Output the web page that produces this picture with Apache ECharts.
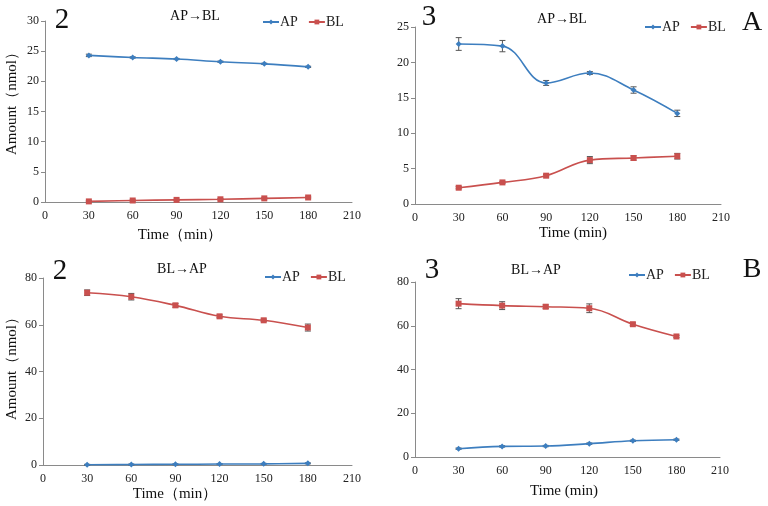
<!DOCTYPE html>
<html><head><meta charset="utf-8">
<script src="https://cdn.jsdelivr.net/npm/echarts@6/dist/echarts.min.js"></script>
<style>html,body{margin:0;padding:0;background:#fff}#c{width:768px;height:506px}</style>
</head><body><div id="c"></div>
<script>
var times = [30, 60, 90, 120, 150, 180];
var xTicks = [0, 30, 60, 90, 120, 150, 180, 210];
// Panel 1: "2", AP→BL
var p1AP = [24.3, 23.95, 23.7, 23.25, 22.9, 22.4];
var p1APErr = [0.2, 0.1, 0.1, 0.1, 0.1, 0.1];
var p1BL = [0.1, 0.25, 0.35, 0.45, 0.6, 0.75];
var p1BLErr = [0.1, 0.1, 0.1, 0.1, 0.1, 0.1];
// Panel 2: "3", AP→BL
var p2AP = [22.6, 22.3, 17.1, 18.5, 16.1, 12.8];
var p2APErr = [0.9, 0.8, 0.35, 0.2, 0.45, 0.45];
var p2BL = [2.3, 3.05, 4.0, 6.2, 6.5, 6.75];
var p2BLErr = [0.15, 0.15, 0.15, 0.5, 0.3, 0.4];
// Panel 3: "2", BL→AP
var p3AP = [0.1, 0.2, 0.3, 0.4, 0.5, 0.7];
var p3APErr = [0.2, 0.2, 0.2, 0.2, 0.2, 0.2];
var p3BL = [73.7, 72.0, 68.3, 63.6, 61.9, 58.8];
var p3BLErr = [1.2, 1.4, 0.8, 0.6, 0.5, 1.5];
// Panel 4: "3", BL→AP
var p4AP = [3.8, 4.85, 5.0, 6.1, 7.4, 7.9];
var p4APErr = [0.3, 0.3, 0.3, 0.3, 0.3, 0.3];
var p4BL = [70.1, 69.2, 68.7, 68.0, 60.7, 55.1];
var p4BLErr = [2.3, 1.8, 0.8, 2.0, 0.6, 0.5];

var yMax = [30, 25, 80, 80];
var yInt = [5, 5, 20, 20];

var BLUE = '#3d7ebf', RED = '#c9504e', AXIS = '#8a8a8a';
var FONT = 'Liberation Serif';

var grids = [
  {left: 45, top: 21, width: 307, height: 181},
  {left: 415, top: 27, width: 306, height: 177},
  {left: 43, top: 278, width: 309, height: 187},
  {left: 415, top: 282, width: 305, height: 175}
];

var panels = [
  {ap: p1AP, apE: p1APErr, bl: p1BL, blE: p1BLErr},
  {ap: p2AP, apE: p2APErr, bl: p2BL, blE: p2BLErr},
  {ap: p3AP, apE: p3APErr, bl: p3BL, blE: p3BLErr},
  {ap: p4AP, apE: p4APErr, bl: p4BL, blE: p4BLErr}
];

var xAxes = [], yAxes = [], series = [];
grids.forEach(function (g, i) {
  xAxes.push({
    type: 'value', gridIndex: i, min: 0, max: 210, interval: 30,
    axisLine: {lineStyle: {color: AXIS}}, axisTick: {show: false},
    splitLine: {show: false},
    axisLabel: {color: '#222', fontFamily: FONT, fontSize: 12, margin: 8}
  });
  yAxes.push({
    type: 'value', gridIndex: i, min: 0, max: yMax[i], interval: yInt[i],
    axisLine: {show: true, lineStyle: {color: AXIS}},
    axisTick: {show: true, length: 4, lineStyle: {color: AXIS}},
    splitLine: {show: false},
    axisLabel: {color: '#222', fontFamily: FONT, fontSize: 12, margin: 6}
  });
});

function errSeries(i, vals, errs, color) {
  return {
    type: 'custom', xAxisIndex: i, yAxisIndex: i, silent: true, z: 3,
    data: times.map(function (t, k) { return [t, vals[k] - errs[k], vals[k] + errs[k]]; }),
    renderItem: function (params, api) {
      var lo = api.coord([api.value(0), api.value(1)]);
      var hi = api.coord([api.value(0), api.value(2)]);
      var w = 3;
      var st = {stroke: color, lineWidth: 1};
      return {type: 'group', children: [
        {type: 'line', shape: {x1: hi[0], y1: hi[1], x2: lo[0], y2: lo[1]}, style: st},
        {type: 'line', shape: {x1: hi[0] - w, y1: hi[1], x2: hi[0] + w, y2: hi[1]}, style: st},
        {type: 'line', shape: {x1: lo[0] - w, y1: lo[1], x2: lo[0] + w, y2: lo[1]}, style: st}
      ]};
    }
  };
}

panels.forEach(function (p, i) {
  series.push({
    name: 'AP', type: 'line', xAxisIndex: i, yAxisIndex: i, smooth: 0.4,
    data: times.map(function (t, k) { return [t, p.ap[k]]; }),
    symbol: 'diamond', symbolSize: 6, showSymbol: true,
    lineStyle: {color: BLUE, width: 1.6}, itemStyle: {color: BLUE}, z: 4
  });
  series.push({
    name: 'BL', type: 'line', xAxisIndex: i, yAxisIndex: i, smooth: 0.4,
    data: times.map(function (t, k) { return [t, p.bl[k]]; }),
    symbol: 'rect', symbolSize: 6, showSymbol: true,
    lineStyle: {color: RED, width: 1.6}, itemStyle: {color: RED}, z: 4
  });
  series.push(errSeries(i, p.ap, p.apE, '#555'));
  series.push(errSeries(i, p.bl, p.blE, '#555'));
});

var legendPos = [[262, 15], [644, 20], [264, 270], [628, 268]];
var legends = legendPos.map(function (pp) {
  return {
    data: ['AP', 'BL'], left: pp[0], top: pp[1], orient: 'horizontal',
    itemWidth: 16, itemHeight: 6, itemGap: 10, selectedMode: false,
    textStyle: {fontFamily: FONT, fontSize: 14, color: '#222', padding: [0, 0, 0, -4]},
    padding: 0
  };
});

function t(x, y, s, size, rot) {
  var o = {type: 'text', x: x, y: y, style: {text: s, font: size + 'px "' + FONT + '"', fill: '#111', align: 'center', verticalAlign: 'middle'}};
  if (rot) o.rotation = rot;
  return o;
}
var graphics = [
  t(62, 20, '2', 29), t(195, 16, 'AP→BL', 14),
  t(429, 17, '3', 29), t(562, 19, 'AP→BL', 14), t(752, 23, 'A', 28),
  t(60, 271, '2', 29), t(182, 269, 'BL→AP', 14),
  t(432, 270, '3', 29), t(536, 270, 'BL→AP', 14), t(752, 270, 'B', 28),
  t(180, 235, 'Time（min）', 15), t(573, 233, 'Time (min)', 15),
  t(175, 494, 'Time（min）', 15), t(564, 491, 'Time (min)', 15),
  t(12, 100, 'Amount（nmol）', 15, Math.PI / 2),
  t(12, 365, 'Amount（nmol）', 15, Math.PI / 2)
];

var chart = echarts.init(document.getElementById('c'), null, {renderer: 'canvas'});
chart.setOption({
  animation: false,
  backgroundColor: '#fff',
  grid: grids,
  xAxis: xAxes,
  yAxis: yAxes,
  legend: legends,
  series: series,
  graphic: graphics
});
</script></body></html>
